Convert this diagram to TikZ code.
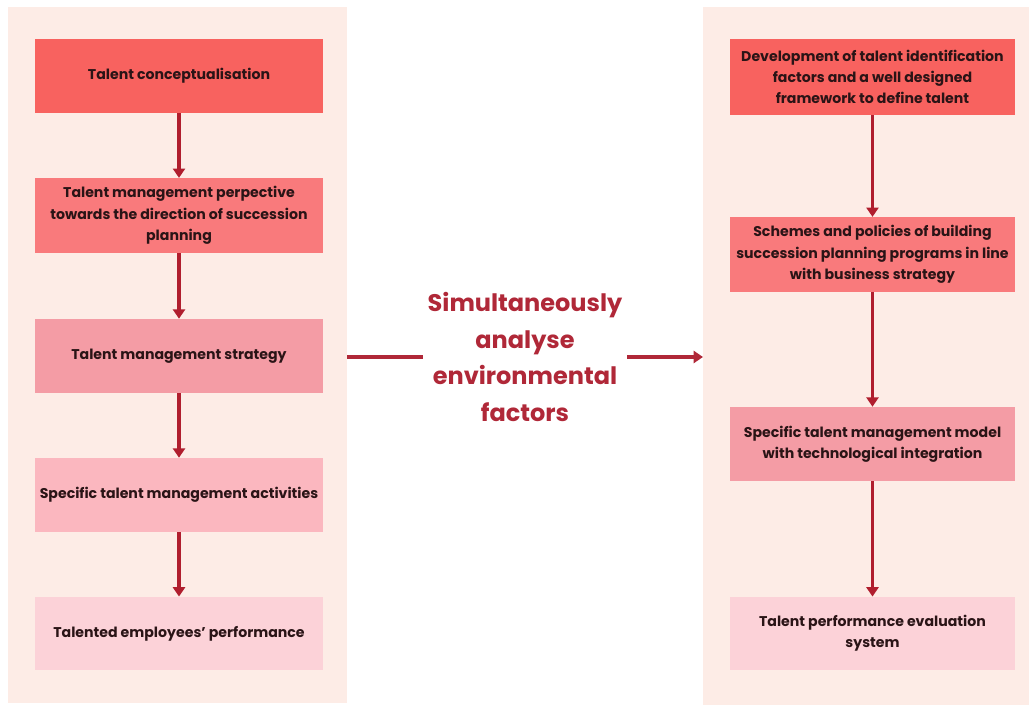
\documentclass[tikz,border=0pt]{standalone}
\usepackage{fontspec}
\setmainfont{Poppins}
\usetikzlibrary{arrows.meta}
\definecolor{panelbg}{HTML}{FDECE6}
\definecolor{cA}{HTML}{F8625F}
\definecolor{cB}{HTML}{F97A7C}
\definecolor{cC}{HTML}{F49CA5}
\definecolor{cD}{HTML}{FBB7BF}
\definecolor{cE}{HTML}{FCD2D8}
\definecolor{arrowred}{HTML}{B01E2E}
\definecolor{txt}{HTML}{2A1416}
\definecolor{midred}{HTML}{B02838}
\tikzset{
  box/.style={draw=none, align=center, inner sep=2pt, text=txt,
    font=\bfseries\fontsize{10.6pt}{16pt}\selectfont},
  lbox/.style={box, minimum width=216pt},
  rbox/.style={box, minimum width=213.75pt},
  flow/.style={draw=arrowred, line width=2.3pt, -{Triangle[width=9pt,length=7pt]}},
}
\begin{document}
\begin{tikzpicture}[x=0.75pt,y=-0.75pt]
\useasboundingbox[fill=white] (0,0) rectangle (1029,706);
\fill[panelbg] (8,7) rectangle (347,703);
\fill[panelbg] (703,7) rectangle (1029,705);
% left column
\node[lbox, fill=cA, minimum height=55.5pt] (l1) at (179,76) {Talent conceptualisation};
\node[lbox, fill=cB, minimum height=56pt] (l2) at (179,215.5) {Talent management perpective\\towards the direction of succession\\planning};
\node[lbox, fill=cC, minimum height=55.5pt] (l3) at (179,356) {Talent management strategy};
\node[lbox, fill=cD, minimum height=55.5pt] (l4) at (179,495) {Specific talent management activities};
\node[lbox, fill=cE, minimum height=55pt] (l5) at (179,633.5) {Talented employees’ performance};
% right column
\node[rbox, fill=cA, minimum height=57pt] (r1) at (872.5,77) {Development of talent identification\\factors and a well designed\\framework to define talent};
\node[rbox, fill=cB, minimum height=56pt] (r2) at (872.5,254.5) {Schemes and policies of building\\succession planning programs in line\\with business strategy};
\node[rbox, fill=cC, minimum height=55.5pt] (r3) at (872.5,444) {Specific talent management model\\with technological integration};
\node[rbox, fill=cE, minimum height=55pt] (r4) at (872.5,633.5) {Talent performance evaluation\\system};
% arrows
\draw[flow] (l1) -- (l2);
\draw[flow] (l2) -- (l3);
\draw[flow] (l3) -- (l4);
\draw[flow] (l4) -- (l5);
\draw[flow] (r1) -- (r2);
\draw[flow] (r2) -- (r3);
\draw[flow] (r3) -- (r4);
% middle
\node[align=center, text=midred, font=\bfseries\fontsize{18pt}{27.5pt}\selectfont] (mid) at (525,357) {Simultaneously\\analyse\\environmental\\factors};
\coordinate (ls) at (347,357);
\coordinate (le) at (423,357);
\coordinate (rs) at (627,357);
\coordinate (re) at (703,357);
\draw[draw=midred, line width=2.3pt] (ls) -- (le);
\draw[draw=midred, line width=2.3pt, -{Triangle[width=9pt,length=7pt]}] (rs) -- (re);
\end{tikzpicture}
\end{document}
